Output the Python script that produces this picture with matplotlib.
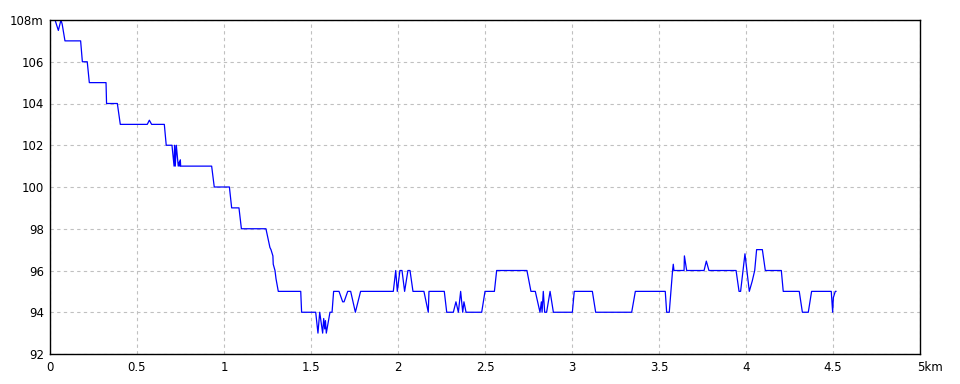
import matplotlib
matplotlib.use("Agg")
import matplotlib.pyplot as plt
from matplotlib.transforms import ScaledTranslation

# distancia (km) e altitude (m)
dist = [0.000, 0.029, 0.048, 0.063, 0.070, 0.086, 0.176, 0.186, 0.214, 0.226,
        0.322, 0.325, 0.387, 0.404, 0.559, 0.571, 0.584, 0.657, 0.668, 0.701,
        0.713, 0.716, 0.720, 0.726, 0.737, 0.743, 0.746, 0.749, 0.751, 0.929,
        0.944, 1.031, 1.044, 1.086, 1.100, 1.241, 1.254, 1.264, 1.270, 1.281,
        1.283, 1.293, 1.299, 1.312, 1.441, 1.446, 1.527, 1.540, 1.550, 1.567,
        1.573, 1.579, 1.583, 1.588, 1.609, 1.621, 1.630, 1.661, 1.682, 1.690,
        1.711, 1.728, 1.755, 1.785, 1.973, 1.987, 1.996, 2.011, 2.023, 2.038,
        2.057, 2.069, 2.086, 2.149, 2.174, 2.178, 2.266, 2.280, 2.318, 2.333,
        2.347, 2.360, 2.372, 2.379, 2.391, 2.481, 2.500, 2.554, 2.567, 2.741,
        2.764, 2.789, 2.816, 2.824, 2.828, 2.835, 2.843, 2.854, 2.874, 2.893,
        3.002, 3.013, 3.117, 3.136, 3.343, 3.364, 3.536, 3.544, 3.559, 3.578,
        3.582, 3.586, 3.644, 3.646, 3.659, 3.759, 3.772, 3.787, 3.943, 3.960,
        3.969, 3.994, 4.019, 4.036, 4.050, 4.061, 4.094, 4.111, 4.203, 4.214,
        4.306, 4.324, 4.358, 4.377, 4.490, 4.498, 4.502, 4.513, 4.517]
alt = [108.0, 108.0, 107.5, 108.0, 107.8, 107.0, 107.0, 106.0, 106.0, 105.0,
       105.0, 104.0, 104.0, 103.0, 103.0, 103.2, 103.0, 103.0, 102.0, 102.0,
       101.0, 102.0, 101.0, 102.0, 101.0, 101.2, 101.0, 101.3, 101.0, 101.0,
       100.0, 100.0, 99.0, 99.0, 98.0, 98.0, 97.5, 97.1, 97.0, 96.7,
       96.3, 96.0, 95.6, 95.0, 95.0, 94.0, 94.0, 93.0, 94.0, 93.0,
       93.7, 93.2, 93.6, 93.0, 94.0, 94.0, 95.0, 95.0, 94.5, 94.5,
       95.0, 95.0, 94.0, 95.0, 95.0, 96.0, 95.0, 96.0, 96.0, 95.0,
       96.0, 96.0, 95.0, 95.0, 94.0, 95.0, 95.0, 94.0, 94.0, 94.5,
       94.0, 95.0, 94.0, 94.5, 94.0, 94.0, 95.0, 95.0, 96.0, 96.0,
       95.0, 95.0, 94.0, 94.5, 94.0, 95.0, 94.0, 94.0, 95.0, 94.0,
       94.0, 95.0, 95.0, 94.0, 94.0, 95.0, 95.0, 94.0, 94.0, 96.0,
       96.3, 96.0, 96.0, 96.7, 96.0, 96.0, 96.45, 96.0, 96.0, 95.0,
       95.0, 96.8, 95.0, 95.5, 96.0, 97.0, 97.0, 96.0, 96.0, 95.0,
       95.0, 94.0, 94.0, 95.0, 95.0, 94.0, 94.7, 95.0, 95.0]

xticks = [0, 0.5, 1, 1.5, 2, 2.5, 3, 3.5, 4, 4.5, 5]
xlabels = ["0", "0.5", "1", "1.5", "2", "2.5", "3", "3.5", "4", "4.5", "5km"]
yticks = [92, 94, 96, 98, 100, 102, 104, 106, 108]
ylabels = ["92", "94", "96", "98", "100", "102", "104", "106", "108m"]

plt.rcParams['font.family'] = ['Liberation Sans Narrow', 'DejaVu Sans']

fig = plt.figure(figsize=(9.6, 3.84), dpi=100)
ax = fig.add_axes([50/960, 30/384, 870/960, 334/384])

ax.plot(dist, alt, color="#0000ff", lw=0.9)

ax.set_xlim(0, 5)
ax.set_ylim(92, 108)
ax.set_xticks(xticks)
ax.set_xticklabels(xlabels)
ax.set_yticks(yticks)
ax.set_yticklabels(ylabels)
ax.tick_params(length=0, labelsize=8.5)
ax.tick_params(axis="x", pad=5)
ax.tick_params(axis="y", pad=4.5)
ax.grid(True, color="#c0c0c0", ls=(0, (3, 3)), lw=0.8)
for s in ax.spines.values():
  s.set_color("black")
  s.set_linewidth(1.0)

# "5km": o numero fica na marca e a unidade vai para a direita
lab = ax.get_xticklabels()[-1]
lab.set_horizontalalignment("left")
lab.set_transform(lab.get_transform() + ScaledTranslation(-3/100, 0, fig.dpi_scale_trans))

fig.savefig("out.png", dpi=100)
